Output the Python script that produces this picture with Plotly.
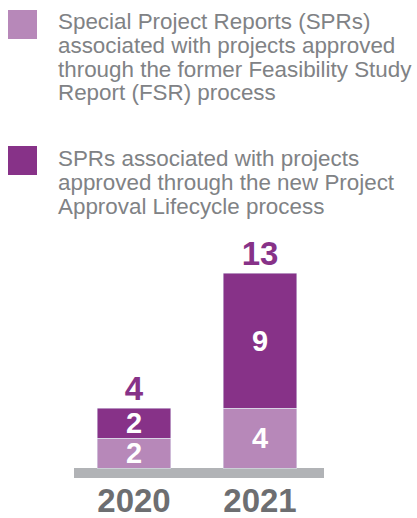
import plotly.graph_objects as go

# data
years = ["2020", "2021"]
fsr_spr = [2, 4]
pal_spr = [2, 9]
totals = [a + b for a, b in zip(fsr_spr, pal_spr)]

legend_fsr = ["Special Project Reports (SPRs)",
              "associated with projects approved",
              "through the former Feasibility Study",
              "Report (FSR) process"]
legend_pal = ["SPRs associated with projects",
              "approved through the new Project",
              "Approval Lifecycle process"]

light = "#b788b9"
dark = "#873288"
grey_txt = "#808285"
bold = dict(family="Arial, Liberation Sans, sans-serif", weight="bold")

W, H = 417, 518
m_l, m_r, m_t, m_b = 71, 94, 230, 40
ph = H - m_t - m_b
pw = W - m_l - m_r
unit_px = 15.0

def py(y):
    return (H - m_b - y) / ph

def px(x):
    return (x - m_l) / pw

fig = go.Figure()

for vals, col in [(fsr_spr, light), (pal_spr, dark)]:
    fig.add_trace(go.Bar(x=years, y=vals, marker_color=col, width=0.587,
                         text=vals, textposition="inside", insidetextanchor="middle",
                         textangle=0, constraintext="none",
                         textfont=dict(color="white", size=29, **bold)))

# totals above bars
fig.add_trace(go.Scatter(x=years, y=totals, mode="text", text=[str(t) for t in totals],
                         textposition="top center", cliponaxis=False,
                         textfont=dict(color=dark, size=33, **bold)))

# grey baseline
fig.add_shape(type="rect", xref="paper", yref="y", x0=px(74), x1=px(324),
              y0=-10 / unit_px, y1=0, fillcolor="#b1b3b6", line_width=0, layer="below")

# legend squares and text
for sq_y, col in [(10, light), (146, dark)]:
    fig.add_shape(type="rect", xref="paper", yref="paper",
                  x0=px(8), x1=px(37), y0=py(sq_y + 29), y1=py(sq_y), fillcolor=col, line_width=0)
for lines, y0 in [(legend_fsr, 21), (legend_pal, 158)]:
    for i, line in enumerate(lines):
        fig.add_annotation(text=line, xref="paper", yref="paper", x=px(56), y=py(y0 + 24 * i),
                           xanchor="left", yanchor="middle", align="left", showarrow=False,
                           font=dict(size=22.4, color=grey_txt, family="Arial, Liberation Sans, sans-serif"))

fig.update_layout(
    width=W, height=H,
    margin=dict(l=m_l, r=m_r, t=m_t, b=m_b, autoexpand=False),
    barmode="stack",
    showlegend=False,
    plot_bgcolor="white", paper_bgcolor="white",
    xaxis=dict(range=[-0.5, 1.5], showgrid=False, showline=False, zeroline=False, ticks="",
               automargin=False,
               tickfont=dict(size=33, color="#6d6e71", **bold)),
    yaxis=dict(range=[-10 / unit_px, ph / unit_px - 10 / unit_px], visible=False, automargin=False),
)

fig.write_html("out.html", config={"displayModeBar": False},
               post_script="document.body.style.margin='0';")
